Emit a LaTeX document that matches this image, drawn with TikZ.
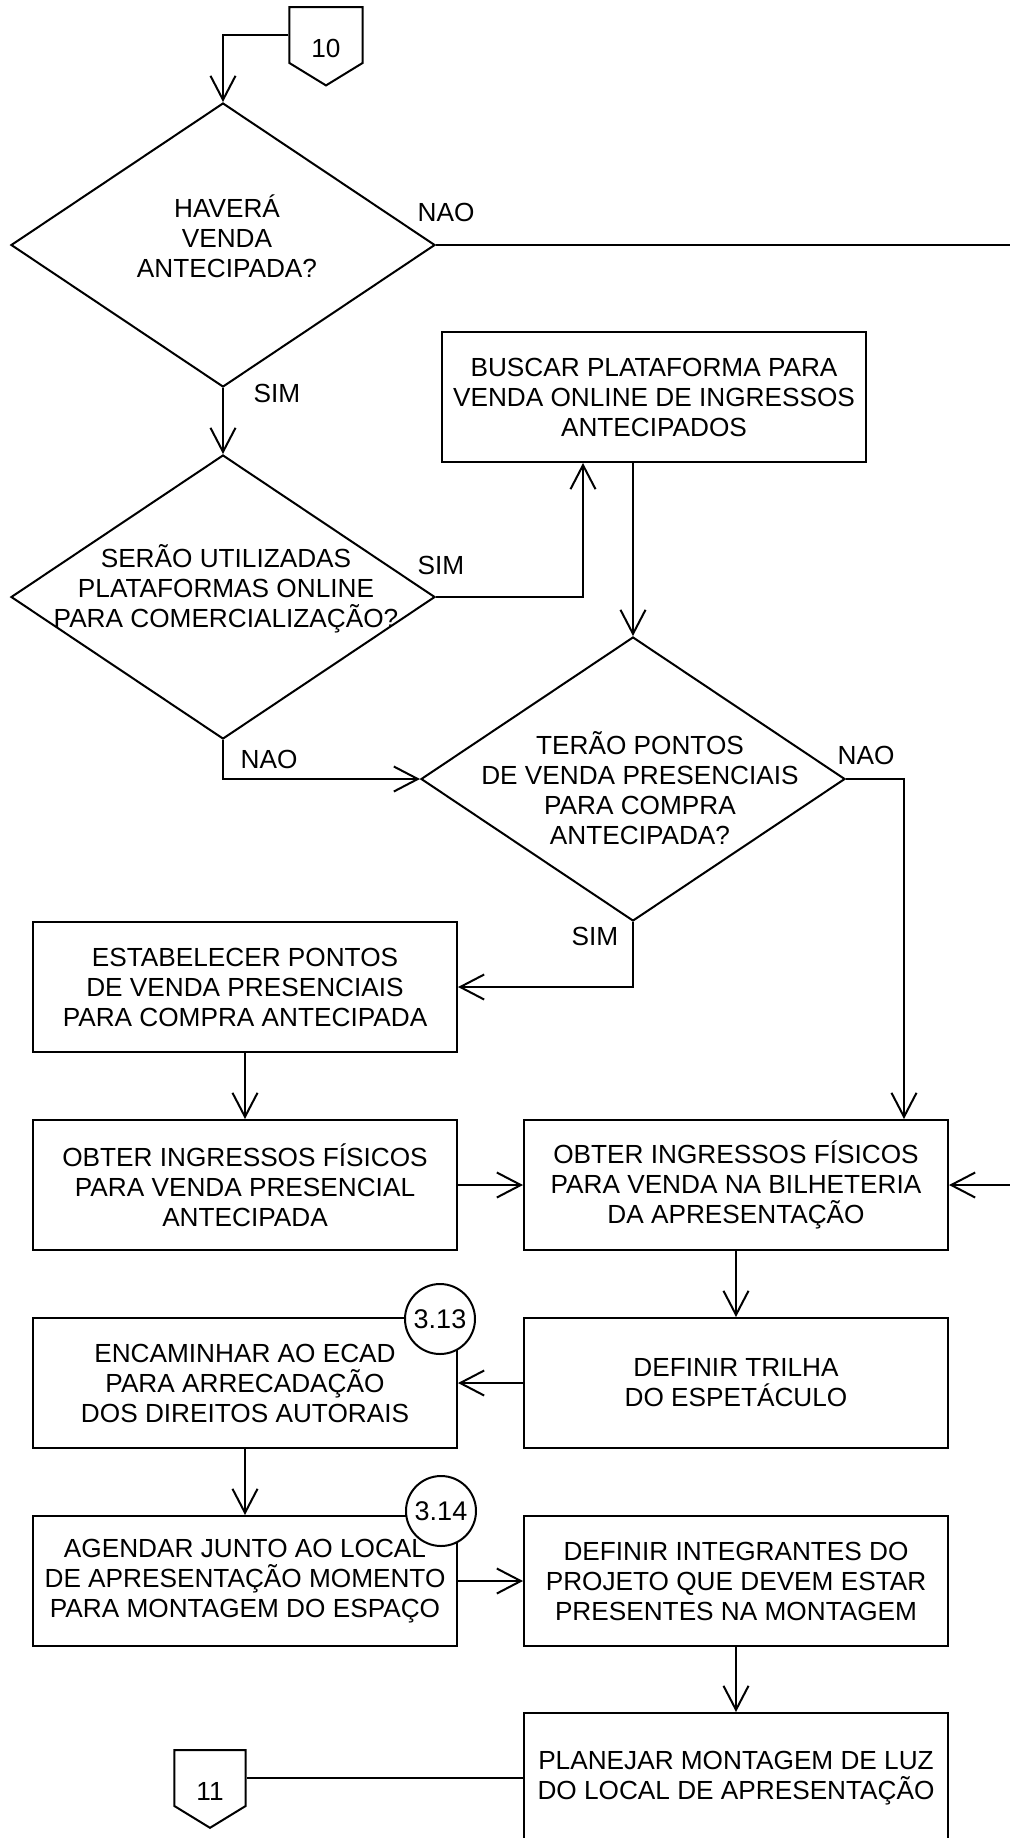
\documentclass[tikz,border=0pt]{standalone}
\usepackage{fontspec}
\setmainfont{Liberation Sans}
\usetikzlibrary{positioning,arrows.meta,calc,shapes.geometric,shapes.symbols}

\begin{document}
\begin{tikzpicture}[
  x=0.5pt, y=-0.5pt,
  font=\fontsize{13.1}{15}\selectfont,
  line width=1pt,
  >={Straight Barb[length=12pt, width=12.5pt]},
  proc/.style={rectangle, draw, align=center, minimum width=212pt, minimum height=65pt, inner sep=2pt},
  decis/.style={diamond, draw, minimum width=212pt, minimum height=142pt, inner sep=0pt},
  qtext/.style={align=center, inner sep=0pt},
  offpage/.style={signal, signal to=south, signal pointer angle=117, draw, inner xsep=11pt, inner ysep=0pt, text height=25pt, text depth=3pt},
  ref/.style={circle, draw, fill=white, minimum size=35pt, inner sep=0pt, font=\fontsize{13.5}{15}\selectfont},
  lbl/.style={inner sep=0pt},
]
\useasboundingbox (0,0) rectangle (1010,1838);

% ---- entry connector and first question ----
\node[offpage] (c10) at (326,35) {10};
\node[decis] (d1) at (223,245) {};
\node[qtext] (d1t) at (227,236) {HAVERÁ\\VENDA\\ANTECIPADA?};

% ---- online platforms ----
\node[decis] (d2) at (223,597) {};
\node[qtext] (d2t) at (226,589) {SERÃO UTILIZADAS\\PLATAFORMAS ONLINE\\PARA COMERCIALIZAÇÃO?};
\node[proc] (buscar) at (654,397) {BUSCAR PLATAFORMA PARA\\VENDA ONLINE DE INGRESSOS\\ANTECIPADOS};

% ---- points of sale ----
\node[decis] (d3) at (633,779) {};
\node[qtext] (d3t) at (640,788) {TERÃO PONTOS\\DE VENDA PRESENCIAIS\\PARA COMPRA\\ANTECIPADA?};
\node[proc] (estab) at (245,987) {ESTABELECER PONTOS\\DE VENDA PRESENCIAIS\\PARA COMPRA ANTECIPADA};

% ---- tickets ----
\node[proc] (obterpres) at (245,1185) {OBTER INGRESSOS FÍSICOS\\PARA VENDA PRESENCIAL\\ANTECIPADA};
\node[proc] (obterbil) at (736,1185) {OBTER INGRESSOS FÍSICOS\\PARA VENDA NA BILHETERIA\\DA APRESENTAÇÃO};

% ---- soundtrack and ECAD ----
\node[proc] (trilha) at (736,1383) {DEFINIR TRILHA\\DO ESPETÁCULO};
\node[proc] (ecad) at (245,1383) {ENCAMINHAR AO ECAD\\PARA ARRECADAÇÃO\\DOS DIREITOS AUTORAIS};

% ---- set-up ----
\node[proc] (agendar) at (245,1581) {AGENDAR JUNTO AO LOCAL\\DE APRESENTAÇÃO MOMENTO\\PARA MONTAGEM DO ESPAÇO};
\node[proc] (integr) at (736,1581) {DEFINIR INTEGRANTES DO\\PROJETO QUE DEVEM ESTAR\\PRESENTES NA MONTAGEM};
\node[proc] (luz) at (736,1778) {PLANEJAR MONTAGEM DE LUZ\\DO LOCAL DE APRESENTAÇÃO};
\node[offpage] (c11) at (210,1778) {11};

% ---- references ----
\node[ref] (r313) at (440,1319) {3.13};
\node[ref] (r314) at (441,1511) {3.14};

% ---- edge of the page ----
\coordinate (eTop) at (1010,245);
\coordinate (eBot) at (1010,1185);

% ============ arrows ============
\draw[->] (c10.west) -| (d1.north);
\draw (d1.east) -- (eTop);
\draw[->] (d1.south) -- (d2.north);
\draw[->] (d2.east) -| ($(buscar.south)+(-71,0)$);
\draw[->] (buscar.south -| d3.north) -- (d3.north);
\draw[->] (d2.south) |- (d3.west);
\draw[->] (d3.east) -| ($(obterbil.north)+(168,0)$);
\draw[->] (d3.south) |- (estab.east);
\draw[->] (estab) -- (obterpres);
\draw[->] (obterpres) -- (obterbil);
\draw[->] (eBot) -- (obterbil.east);
\draw[->] (obterbil) -- (trilha);
\draw[->] (trilha) -- (ecad);
\draw[->] (ecad) -- (agendar);
\draw[->] (agendar) -- (integr);
\draw[->] (integr) -- (luz);
\draw (luz.west) -- (c11.east);

% answers
\node[lbl] (nao1) at (446,212) {NAO};
\node[lbl] (sim1) at (277,393) {SIM};
\node[lbl] (sim2) at (441,565) {SIM};
\node[lbl] (nao2) at (269,759) {NAO};
\node[lbl] (nao3) at (866,755) {NAO};
\node[lbl] (sim3) at (595,936) {SIM};

\end{tikzpicture}
\end{document}
